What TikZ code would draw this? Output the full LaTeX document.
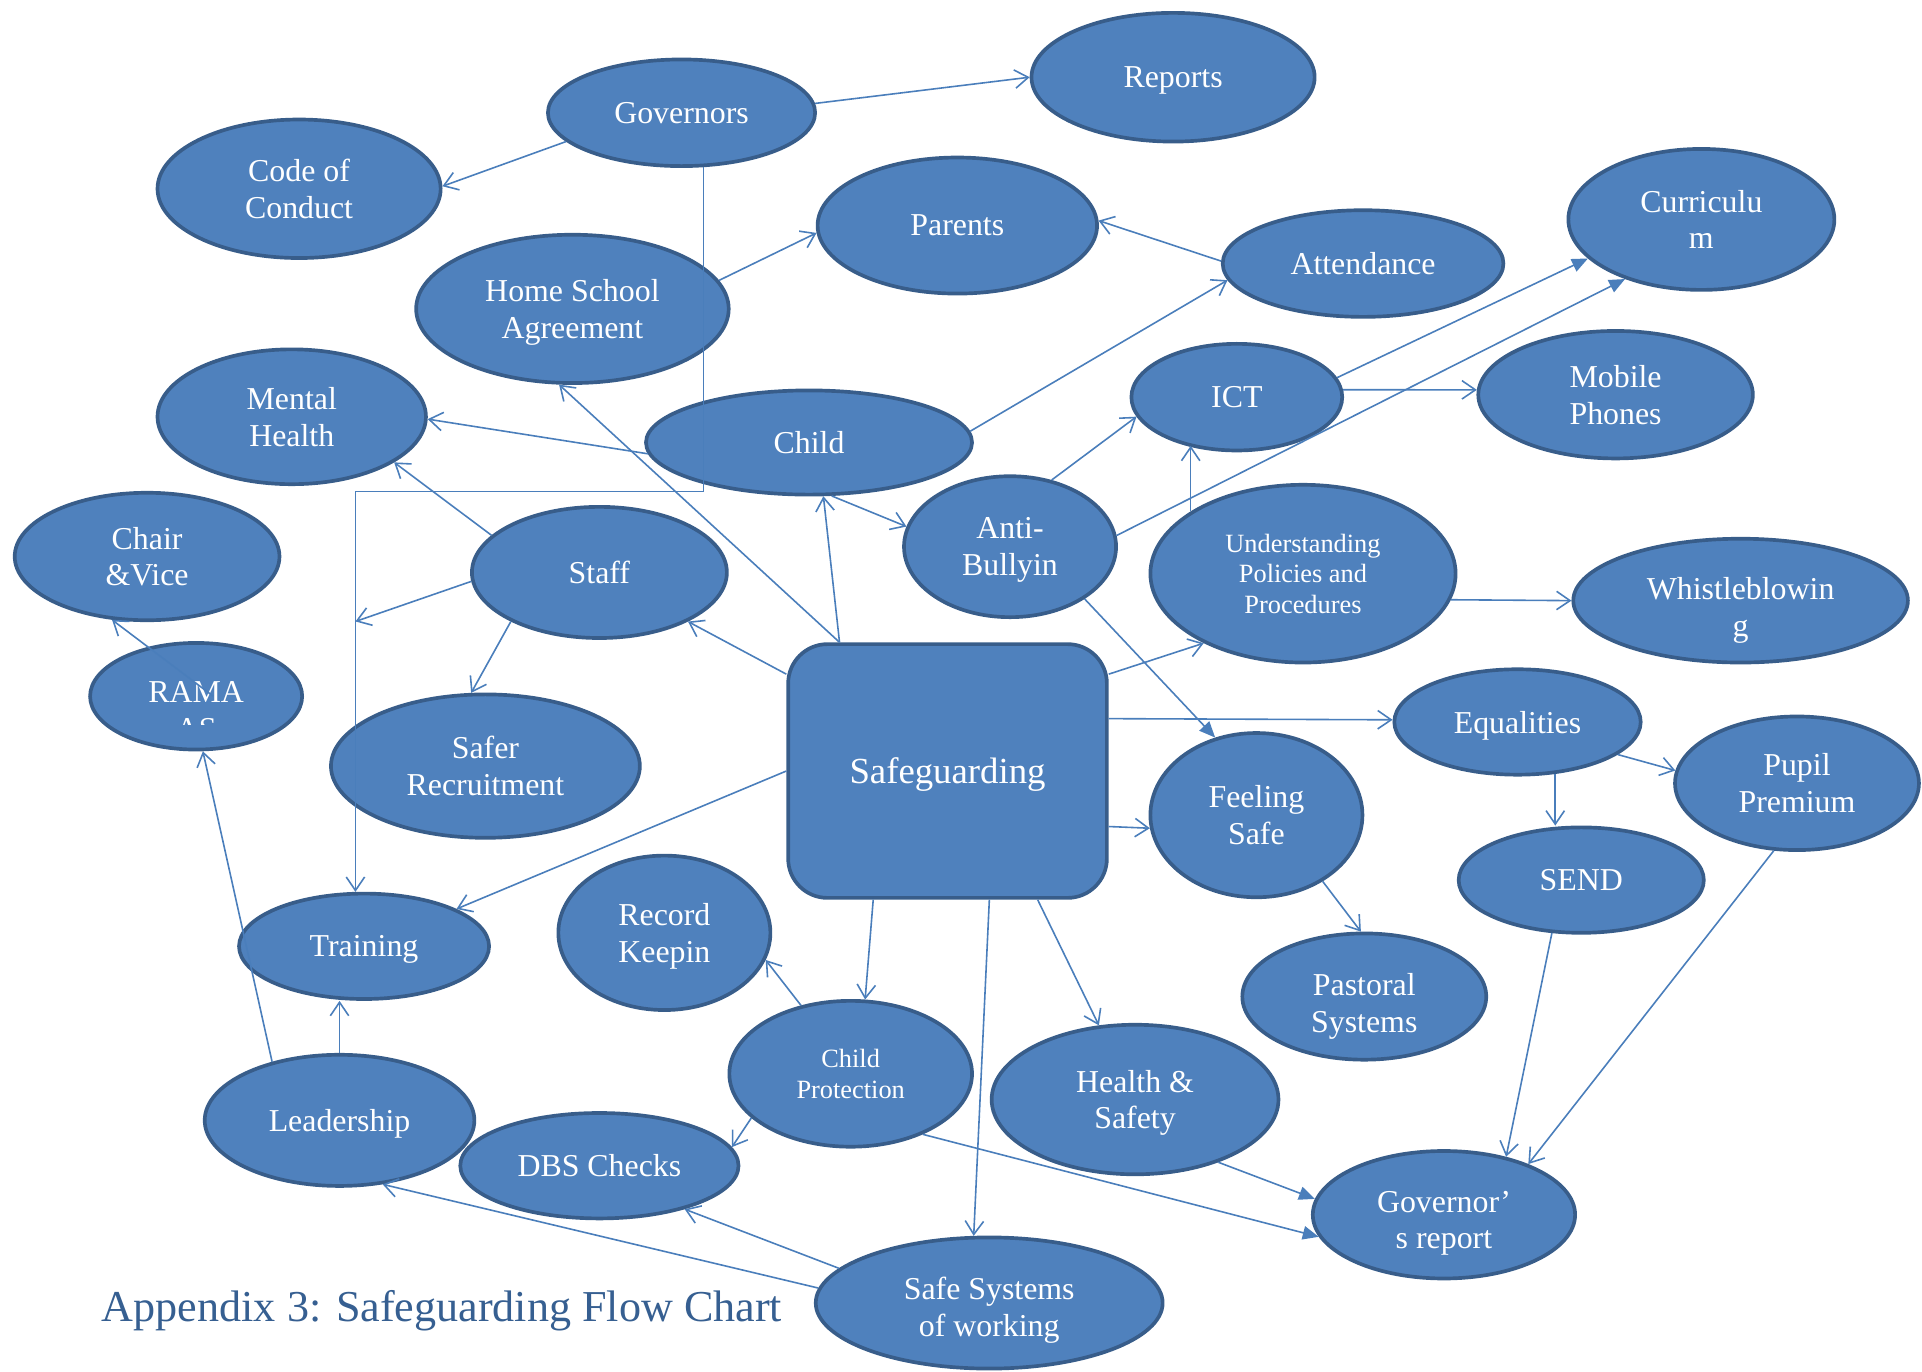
\documentclass[tikz,border=0pt]{standalone}
\usepackage{fontspec}
\setmainfont{Liberation Serif}
\usetikzlibrary{shapes.geometric,arrows.meta}
\definecolor{bubfill}{HTML}{4F81BD}
\definecolor{bubline}{HTML}{385D8A}
\definecolor{conline}{HTML}{4A7EBB}
\definecolor{titleblue}{HTML}{365F91}

\begin{document}
\begin{tikzpicture}[x=1pt,y=-1pt,
		bub/.style 2 args={ellipse,draw=bubline,fill=bubfill,line width=3pt,inner sep=0pt,minimum width=#1pt,minimum height=#2pt,text=white,align=center,text depth=0pt,font=\fontsize{26}{30}\selectfont},
		smalltxt/.style={font=\fontsize{21.5}{25}\selectfont},
		sgbox/.style={rectangle,rounded corners=32pt,draw=bubline,fill=bubfill,line width=3pt,minimum width=260pt,minimum height=207pt,text=white,text depth=0pt,font=\fontsize{30}{34}\selectfont},
		bubtxt/.style={text=white,anchor=base,inner sep=0pt,font=\fontsize{26}{30}\selectfont},
		bubtxtc/.style={text=white,inner sep=0pt,align=center,font=\fontsize{26}{30}\selectfont},
		con/.style={draw=conline,line width=1.3pt,-{Straight Barb[length=11pt,width=15pt]}},
		fcon/.style={draw=conline,line width=1.3pt,-{Triangle[length=13pt,width=11pt]}}]
			\useasboundingbox (0,0) rectangle (1568,1119);
			\node[bub={218}{87}] (gov) at (556,92) {Governors};
			\node[bub={231}{105}] (rep) at (957,63) {Reports};
			\node[bub={231}{113}] (code) at (244,154) {Code of\\Conduct};
			\node[bub={228}{111}] (par) at (781,184) {Parents};
			\node[bub={229}{87}] (att) at (1112,215) {Attendance};
			\node[bub={217}{115}] (cur) at (1388,179) {Curriculu\\m};
			\node[bub={255}{121}] (hsa) at (467,252) {Home School\\Agreement};
			\node[bub={219}{110}] (ment) at (238,340) {Mental\\Health};
			\node[bub={266}{85}] (child) at (660,361) {Child};
			\node[bub={172}{87}] (ict) at (1009,324) {ICT};
			\node[bub={224}{104}] (mob) at (1318,322) {Mobile\\Phones};
			\node[bub={173}{115}] (anti) at (824,446) {Anti-\\Bullyin};
			\node[bub={249}{145},smalltxt] (und) at (1063,468) {Understanding\\Policies and\\Procedures};
			\node[bub={216}{104}] (chair) at (120,454) {Chair\\\&Vice};
			\node[bub={208}{107}] (staff) at (489,467) {Staff};
			\node[bub={273}{101}] (whis) at (1420,490) {};
			\node[bubtxtc] (whistxt) at (1420,498) {Whistleblowin\\g};
			\node[bub={173}{87}] (ramas) at (160,568) {};
			\node[bubtxt] (ramatop) at (160,573) {RAMA};
			\begin{scope}
				\clip (72,540) rectangle (248,591);
				\node[bubtxt] (ramabot) at (160,603) {AS};
			\end{scope}
			\node[bub={252}{117}] (safer) at (396,625) {Safer\\Recruitment};
			\node[sgbox] (safe) at (773,629) {Safeguarding};
			\node[bub={201}{86}] (equ) at (1238,589) {Equalities};
			\node[bub={199}{109}] (pup) at (1466,639) {Pupil\\Premium};
			\node[bub={173}{134}] (feel) at (1025,665) {Feeling\\Safe};
			\node[bub={200}{86}] (send) at (1290,718) {SEND};
			\node[bub={204}{86}] (train) at (297,772) {Training};
			\node[bub={173}{126}] (rec) at (542,761) {Record\\Keepin};
			\node[bub={199}{103}] (past) at (1113,813) {};
			\node[bubtxtc] (pasttxt) at (1113,821) {Pastoral\\Systems};
			\node[bub={198}{119},smalltxt] (cp) at (694,876) {Child\\Protection};
			\node[bub={234}{122}] (hs) at (926,897) {Health \&\\Safety};
			\node[bub={220}{107}] (lead) at (277,914) {Leadership};
			\node[bub={227}{86}] (dbs) at (489,951) {DBS Checks};
			\node[bub={214}{104}] (govr) at (1178,991) {};
			\node[bubtxtc] (govrtxt) at (1178,998) {Governor’\\s report};
			\node[bub={283}{107}] (ssw) at (807,1063) {};
			\node[bubtxtc] (sswtxt) at (807,1069) {Safe Systems\\of working};
			\node[anchor=base west,inner sep=0pt,text=titleblue,font=\fontsize{36}{40}\selectfont] (title) at (83,1078) {Appendix 3: Safeguarding Flow Chart};
			\coordinate (govbend) at (0,401);
			\coordinate (stafftip) at (290,507);
			\coordinate (ramasin) at (174,568);
			\draw[con] (gov.4) -- (rep.180);
			\draw[con] (gov.194) -- (code.1);
			\draw[con] (gov.292) -- (gov.292 |- govbend) -| (train.99);
			\draw[con] (hsa.11) -- (par.183);
			\draw[con] (att.179) -- (par.2);
			\draw[con] (child.4) -- (att.187);
			\draw[con] (child.184) -- (ment.359);
			\draw[con] (safe.130) -- (hsa.260);
			\draw[con] (safe.130) -- (child.285);
			\draw[con] (child.293) -- (anti.169);
			\draw[con] (anti.58) -- (ict.191);
			\draw[fcon] (ict.11) -- (cur.199);
			\draw[fcon] (anti.6) -- (cur.218);
			\draw[con] (ict.4) -- (mob.178);
			\draw[con] (und.151) -- (und.151 |- ict.224);
			\draw[con] (staff.161) -- (ment.336);
			\draw[con] (staff.184) -- (stafftip);
			\draw[con] (staff.209) -- (safer.101);
			\draw[con] (safe.149) -- (staff.331);
			\draw[con] (safe.31) -- (und.215);
			\draw[con] (und.350) -- (whis.180);
			\draw[fcon] (anti.325) -- (feel.118);
			\draw[con] (safe.18) -- (equ.179);
			\draw[con] (safe.341) -- (feel.187);
			\draw[con] (equ.342) -- (pup.174);
			\draw[con] (equ.306) -- (equ.306 |- send.north);
			\draw[con] (safe.west) -- (train.22);
			\draw[con] (feel.315) -- (past.93);
			\draw[con] (safe.240) -- (cp.79);
			\draw[con] (safe.305) -- (hs.116);
			\draw[con] (safe.288) -- (ssw.103);
			\draw[con] (send.241) -- (govr.43);
			\draw[con] (pup.251) -- (govr.31);
			\draw[fcon] (hs.323) -- (govr.173);
			\draw[fcon] (cp.320) -- (govr.190);
			\draw[con] (cp.126) -- (rec.345);
			\draw[con] (cp.204) -- (dbs.8);
			\draw[con] (lead.north) -- (lead.north |- train.south);
			\draw[con] (lead.139) -- (ramas.277);
			\draw[con] (ssw.167) -- (dbs.333);
			\draw[con] (ssw.175) -- (lead.304);
			\draw[con] (ramasin) -- (chair.241);
		\end{tikzpicture}
\end{document}
